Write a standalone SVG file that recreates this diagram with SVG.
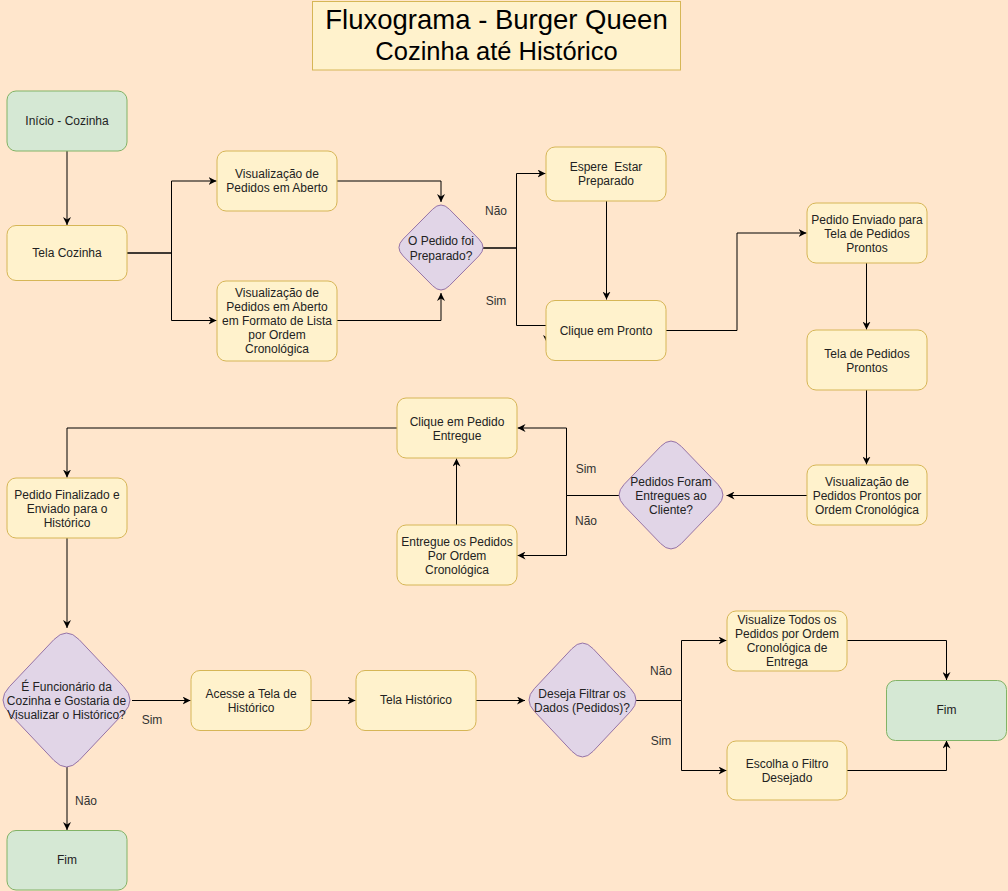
<svg xmlns="http://www.w3.org/2000/svg" width="1008" height="891" viewBox="0 0 1008 891">
<style>
.bg{fill:#ffe6cc}
.proc{fill:#fff2cc;stroke:#d6b656;stroke-width:1}
.term{fill:#d5e8d4;stroke:#82b366;stroke-width:1}
.dec{fill:#e1d5e7;stroke:#9673a6;stroke-width:1}
.t{font-family:"Liberation Sans",Arial,sans-serif;font-size:12px;fill:#222;text-anchor:middle}
.lbl{font-family:"Liberation Sans",Arial,sans-serif;font-size:12px;fill:#333;text-anchor:middle}
.e{fill:none;stroke:#000;stroke-width:1;marker-end:url(#arr)}
.title{font-family:"Liberation Sans",Arial,sans-serif;fill:#000;text-anchor:middle}
</style>
<defs>
<marker id="arr" viewBox="0 0 10 10" refX="10" refY="5" markerWidth="8" markerHeight="8" markerUnits="userSpaceOnUse" orient="auto">
<path d="M0,0 L10,5 L0,10 L3,5 Z" fill="#000"/>
</marker>
</defs>
<rect class="bg" x="0" y="0" width="1008" height="891"/>

<g id="title">
<rect x="312.5" y="1.5" width="368" height="68.5" fill="#fff2cc" stroke="#d6b656"/>
<text class="title" x="496.5" y="29" font-size="27.5">Fluxograma - Burger Queen</text>
<text class="title" x="496.5" y="60" font-size="25.5">Cozinha até Histórico</text>
</g>

<g id="connectors">
<path class="e" d="M67,151 V225"/>
<path class="e" d="M127,253 H171.5 V181 H216.5"/>
<path class="e" d="M127,253 H171.5 V320.5 H216.5"/>
<path class="e" d="M337,181 H441 V202"/>
<path class="e" d="M337,320.5 H441 V293"/>
<path class="e" d="M483,248 H516.5 V173.5 H545.5"/>
<path class="e" d="M483,248 H516.5 V325.5 H547 V343"/>
<path class="e" d="M606.5,201 V299.5"/>
<path class="e" d="M666,330.5 H737 V233 H806.5"/>
<path class="e" d="M866.5,263 V329.5"/>
<path class="e" d="M866.5,390 V464.5"/>
<path class="e" d="M807,495.5 H726.5"/>
<path class="e" d="M619,495.5 H566.5 V428 H517.5"/>
<path class="e" d="M619,495.5 H566.5 V555.5 H517.5"/>
<path class="e" d="M456.5,525 V458.5"/>
<path class="e" d="M397,428 H67 V477.5"/>
<path class="e" d="M67,538 V628"/>
<path class="e" d="M132,700.5 H190.5"/>
<path class="e" d="M67,767 V830"/>
<path class="e" d="M311,700.5 H355.5"/>
<path class="e" d="M476,700.5 H525"/>
<path class="e" d="M636,700.5 H681.5 V640.5 H726.5"/>
<path class="e" d="M636,700.5 H681.5 V770.5 H726.5"/>
<path class="e" d="M847,640.5 H946.5 V680"/>
<path class="e" d="M847,770.5 H946.5 V740.5"/>
<text class="lbl" x="496" y="215">Não</text>
<text class="lbl" x="496" y="305">Sim</text>
<text class="lbl" x="586" y="473">Sim</text>
<text class="lbl" x="586" y="525">Não</text>
<text class="lbl" x="152" y="724">Sim</text>
<text class="lbl" x="86" y="805">Não</text>
<text class="lbl" x="661" y="675">Não</text>
<text class="lbl" x="661" y="745">Sim</text>
</g>

<g id="inicio-cozinha">
<rect class="term" x="7" y="91" width="120" height="60" rx="9"/>
<text class="t" x="67" y="125">Início - Cozinha</text>
</g>
<g id="tela-cozinha">
<rect class="proc" x="7" y="225.5" width="120" height="55" rx="9"/>
<text class="t" x="67" y="257">Tela Cozinha</text>
</g>
<g id="vis-aberto">
<rect class="proc" x="217" y="151" width="120" height="60" rx="9"/>
<text class="t" x="277" y="178">Visualização de</text>
<text class="t" x="277" y="192">Pedidos em Aberto</text>
</g>
<g id="vis-lista">
<rect class="proc" x="217" y="281" width="120" height="80" rx="9"/>
<text class="t" x="277" y="297">Visualização de</text>
<text class="t" x="277" y="311">Pedidos em Aberto</text>
<text class="t" x="277" y="325">em Formato de Lista</text>
<text class="t" x="277" y="339">por Ordem</text>
<text class="t" x="277" y="353">Cronológica</text>
</g>
<g id="dec-preparado">
<path class="dec" d="M432.7,209.2 Q441,200.8 449.3,209.2 L478.9,239.1 Q487.2,247.5 478.9,255.9 L449.3,285.8 Q441,294.2 432.7,285.8 L403.1,255.9 Q394.8,247.5 403.1,239.1 Z"/>
<text class="t" x="441" y="245">O Pedido foi</text>
<text class="t" x="441" y="260">Preparado?</text>
</g>
<g id="espere">
<rect class="proc" x="546" y="147" width="120" height="54" rx="9"/>
<text class="t" x="606" y="171" xml:space="preserve">Espere  Estar</text>
<text class="t" x="606" y="185">Preparado</text>
</g>
<g id="clique-pronto">
<rect class="proc" x="546" y="300.5" width="120" height="60" rx="9"/>
<text class="t" x="606" y="335">Clique em Pronto</text>
</g>
<g id="pedido-enviado">
<rect class="proc" x="807" y="203" width="120" height="60" rx="9"/>
<text class="t" x="867" y="224">Pedido Enviado para</text>
<text class="t" x="867" y="238">Tela de Pedidos</text>
<text class="t" x="867" y="252">Prontos</text>
</g>
<g id="tela-prontos">
<rect class="proc" x="807" y="330" width="120" height="60" rx="9"/>
<text class="t" x="867" y="358">Tela de Pedidos</text>
<text class="t" x="867" y="372">Prontos</text>
</g>
<g id="vis-prontos">
<rect class="proc" x="807" y="465" width="120" height="60" rx="9"/>
<text class="t" x="867" y="486">Visualização de</text>
<text class="t" x="867" y="500">Pedidos Prontos por</text>
<text class="t" x="867" y="514">Ordem Cronológica</text>
</g>
<g id="dec-entregues">
<path class="dec" d="M660.7,446.4 Q671,435.7 681.3,446.4 L717.8,484.3 Q728.1,495 717.8,505.7 L681.3,543.6 Q671,554.3 660.7,543.6 L624.2,505.7 Q613.9,495 624.2,484.3 Z"/>
<text class="t" x="671" y="486">Pedidos Foram</text>
<text class="t" x="671" y="500">Entregues ao</text>
<text class="t" x="671" y="514">Cliente?</text>
</g>
<g id="clique-entregue">
<rect class="proc" x="397" y="398" width="120" height="60" rx="9"/>
<text class="t" x="457" y="426">Clique em Pedido</text>
<text class="t" x="457" y="440">Entregue</text>
</g>
<g id="entregue-pedidos">
<rect class="proc" x="397" y="525" width="120" height="60" rx="9"/>
<text class="t" x="457" y="546">Entregue os Pedidos</text>
<text class="t" x="457" y="560">Por Ordem</text>
<text class="t" x="457" y="574">Cronológica</text>
</g>
<g id="pedido-finalizado">
<rect class="proc" x="7" y="478" width="120" height="60" rx="9"/>
<text class="t" x="67" y="499">Pedido Finalizado e</text>
<text class="t" x="67" y="513">Enviado para o</text>
<text class="t" x="67" y="527">Histórico</text>
</g>
<g id="dec-funcionario">
<path class="dec" d="M53.9,639.6 Q66.5,626.4 79.1,639.6 L123.7,686.8 Q136.3,700 123.7,713.2 L79.1,760.4 Q66.5,773.6 53.9,760.4 L9.3,713.2 Q-3.3,700 9.3,686.8 Z"/>
<text class="t" x="66.5" y="691">É Funcionário da</text>
<text class="t" x="66.5" y="705">Cozinha e Gostaria de</text>
<text class="t" x="66.5" y="719">Visualizar o Histórico?</text>
</g>
<g id="fim-cozinha">
<rect class="term" x="7" y="830.5" width="120" height="59.5" rx="9"/>
<text class="t" x="67" y="864">Fim</text>
</g>
<g id="acesse-historico">
<rect class="proc" x="191" y="670.5" width="120" height="60" rx="9"/>
<text class="t" x="251" y="698">Acesse a Tela de</text>
<text class="t" x="251" y="712">Histórico</text>
</g>
<g id="tela-historico">
<rect class="proc" x="356" y="670.5" width="120" height="60" rx="9"/>
<text class="t" x="416" y="704">Tela Histórico</text>
</g>
<g id="dec-filtrar">
<path class="dec" d="M571.9,648.7 Q582.5,637.4 593.1,648.7 L630.7,688.7 Q641.3,700 630.7,711.3 L593.1,751.3 Q582.5,762.6 571.9,751.3 L534.3,711.3 Q523.7,700 534.3,688.7 Z"/>
<text class="t" x="582" y="698">Deseja Filtrar os</text>
<text class="t" x="582" y="712">Dados (Pedidos)?</text>
</g>
<g id="visualize-todos">
<rect class="proc" x="727" y="611" width="120" height="60" rx="9"/>
<text class="t" x="787" y="624">Visualize Todos os</text>
<text class="t" x="787" y="638">Pedidos por Ordem</text>
<text class="t" x="787" y="652">Cronológica de</text>
<text class="t" x="787" y="666">Entrega</text>
</g>
<g id="escolha-filtro">
<rect class="proc" x="727" y="741" width="120" height="59" rx="9"/>
<text class="t" x="787" y="768">Escolha o Filtro</text>
<text class="t" x="787" y="782">Desejado</text>
</g>
<g id="fim-historico">
<rect class="term" x="886.5" y="680.5" width="120" height="60" rx="9"/>
<text class="t" x="946.5" y="714">Fim</text>
</g>
</svg>
